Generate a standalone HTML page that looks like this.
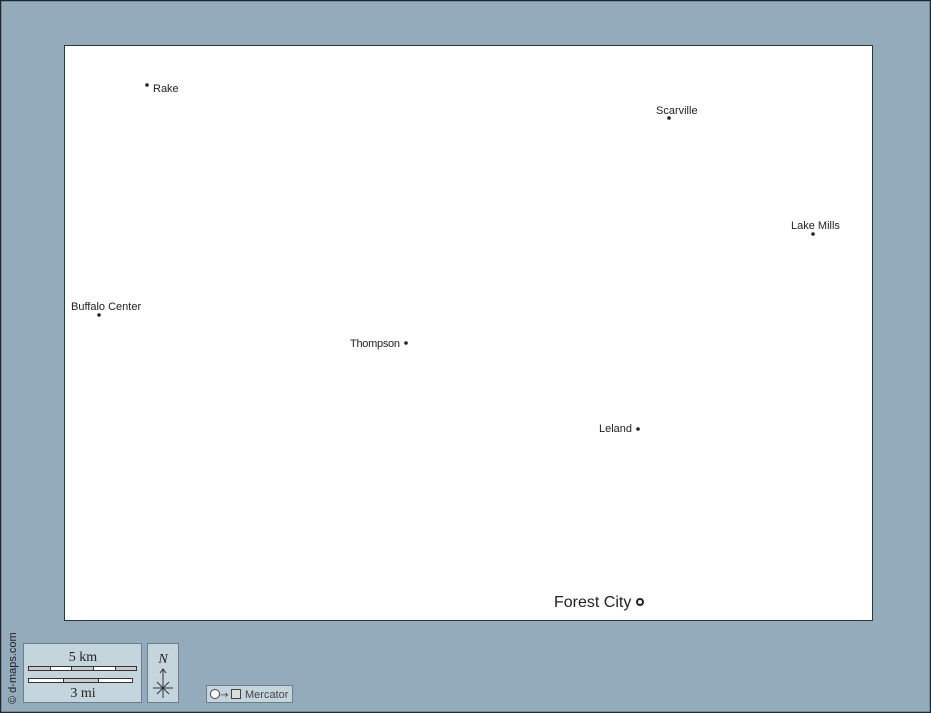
<!DOCTYPE html>
<html><head><meta charset="utf-8"><style>
html,body{margin:0;padding:0;}
body{width:931px;height:713px;overflow:hidden;background:#94abbb;font-family:"Liberation Sans",sans-serif;}
</style></head><body>
<svg width="931" height="713" xmlns="http://www.w3.org/2000/svg" style="position:absolute;left:0;top:0">
<rect x="0.5" y="0.5" width="930" height="712" fill="#94abbb" stroke="#1e2a33" stroke-width="1.5"/>
<rect x="64.5" y="45.5" width="808" height="575" fill="#fff" stroke="#2a3640" stroke-width="1"/>
<g font-family="Liberation Sans, sans-serif" font-size="11" fill="#222">
<circle cx="147" cy="85" r="1.8" fill="#222"/><text x="153" y="92">Rake</text>
<circle cx="669" cy="118" r="1.8" fill="#222"/><text x="656" y="114">Scarville</text>
<circle cx="813" cy="234" r="1.8" fill="#222"/><text x="791" y="229">Lake Mills</text>
<circle cx="99" cy="315" r="1.8" fill="#222"/><text x="71" y="310">Buffalo Center</text>
<circle cx="406" cy="343" r="1.8" fill="#222"/><text x="350" y="347" textLength="50">Thompson</text>
<circle cx="638" cy="429" r="1.8" fill="#222"/><text x="599" y="432">Leland</text>
<text x="554" y="607" font-size="16">Forest City</text>
<circle cx="640" cy="602" r="3" fill="none" stroke="#222" stroke-width="2"/>
</g>
<text transform="translate(16,704) rotate(-90)" font-family="Liberation Sans, sans-serif" font-size="11" fill="#222">© d-maps.com</text>
<rect x="23.5" y="643.5" width="118" height="59" fill="#c5d5de" stroke="#6c7e8a"/>
<text x="83" y="661" font-family="Liberation Serif, serif" font-size="14" text-anchor="middle" fill="#222">5 km</text>
<g stroke="#333" stroke-width="1">
<rect x="28.5" y="666.5" width="22" height="4" fill="#ccc"/>
<rect x="50.5" y="666.5" width="21" height="4" fill="#fff"/>
<rect x="71.5" y="666.5" width="22" height="4" fill="#ccc"/>
<rect x="93.5" y="666.5" width="22" height="4" fill="#fff"/>
<rect x="115.5" y="666.5" width="21" height="4" fill="#ccc"/>
<rect x="28.5" y="678.5" width="35" height="4" fill="#fff"/>
<rect x="63.5" y="678.5" width="35" height="4" fill="#ccc"/>
<rect x="98.5" y="678.5" width="34" height="4" fill="#fff"/>
</g>
<text x="83" y="697" font-family="Liberation Serif, serif" font-size="14" text-anchor="middle" fill="#222">3 mi</text>
<rect x="147.5" y="643.5" width="31" height="59" fill="#c5d5de" stroke="#6c7e8a"/>
<text x="163" y="663" font-family="Liberation Serif, serif" font-style="italic" font-size="14" text-anchor="middle" fill="#222">N</text>
<line x1="163" y1="670" x2="163" y2="698" stroke="#333"/>
<polyline points="160,673 163,669 166,673" fill="none" stroke="#333"/>
<line x1="153" y1="688" x2="173" y2="688" stroke="#333"/>
<line x1="157" y1="682" x2="169" y2="694" stroke="#333"/><line x1="169" y1="682" x2="157" y2="694" stroke="#333"/>
<rect x="206.5" y="685.5" width="86" height="17" fill="#c5d5de" stroke="#6c7e8a"/>
<circle cx="215" cy="694" r="4.5" fill="#fff" stroke="#444"/>
<text x="220" y="698" font-family="DejaVu Sans, sans-serif" font-size="10" fill="#444">→</text>
<rect x="231.5" y="689.5" width="9" height="9" fill="#ddd" stroke="#444"/>
<text x="245" y="698" font-family="Liberation Sans, sans-serif" font-size="11" fill="#444">Mercator</text>
</svg>
</body></html>
